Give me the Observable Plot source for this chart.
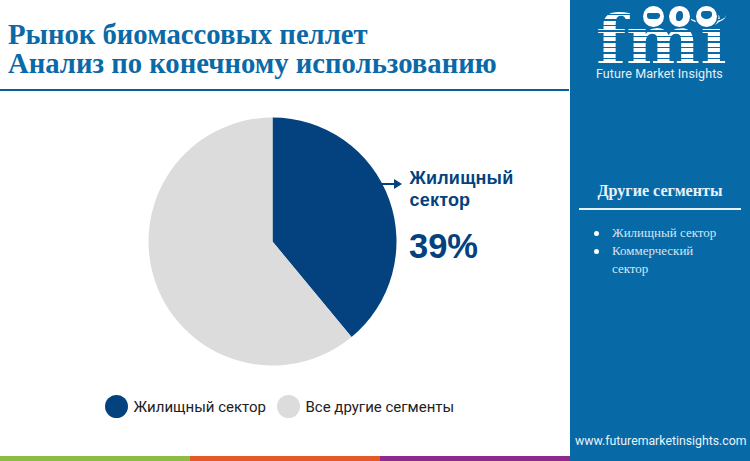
<!DOCTYPE html>
<html lang="ru"><head><meta charset="utf-8">
<script src="https://cdn.jsdelivr.net/npm/d3@7"></script>
<script src="https://cdn.jsdelivr.net/npm/@observablehq/plot@0.6"></script>
<style>
html,body{margin:0;padding:0;background:#fff;width:750px;height:461px;overflow:hidden}
#page{position:relative;width:750px;height:461px;overflow:hidden}
#page div{position:absolute;white-space:nowrap}
#chart{left:0;top:90px;width:569px;height:300px}
#chart svg{display:block}
.title{left:8px;font:bold 28.7px/34px "Liberation Serif",serif;color:#0a69a7}
.rule{left:0;top:89px;width:569px;height:1.5px;background:#0b5f97}
.panel{left:570px;top:0;width:180px;height:461px;background:#0869a7}
.call{left:409.5px;font:bold 18px/22px "Liberation Sans",sans-serif;color:#03427f;letter-spacing:.2px}
.pct{left:409px;top:224px;font:bold 34.5px/44px "Liberation Sans",sans-serif;color:#03427f}
.leg{font:15px/20px Roboto,sans-serif;color:#222;top:397px}
.swatch{width:23px;height:23px;border-radius:50%;top:395px}
.side{font-family:"Liberation Serif",serif;color:#d3e6f3;font-size:13px;line-height:18px;left:612px}
.bullet{width:5px;height:5px;border-radius:50%;background:#fff;left:594px}
.fmi{left:596px;top:10px;padding-top:4px;font:bold 70px/54px "DejaVu Serif",serif;color:transparent;
 background:repeating-linear-gradient(#fff 0 4px,#0869a7 4px 5.5px);-webkit-background-clip:text;background-clip:text}
.globe{width:21px;height:21px;border-radius:50%;background:#fff;top:5.5px;overflow:hidden;box-shadow:0 0 0 1.5px #0869a7}
.globe i{position:absolute;background:#0869a7;display:block}
.smile{left:688px;top:6px;width:38px;height:18px;border-bottom:2px solid #fff;border-radius:0 0 50% 50%;box-sizing:border-box}
</style></head><body>
<div id="page">
 <div class="title" style="top:17px">Рынок биомассовых пеллет</div>
 <div class="title" style="top:46px">Анализ по конечному использованию</div>
 <div class="rule"></div>
 <div id="chart"></div>

 <div style="left:381px;top:183.2px;width:14px;height:2px;background:#03427f"></div>
 <div style="left:394px;top:178.5px;width:0;height:0;border-left:8px solid #03427f;border-top:5.5px solid transparent;border-bottom:5.5px solid transparent"></div>
 <div class="call" style="top:167px">Жилищный</div>
 <div class="call" style="top:189px">сектор</div>
 <div class="pct">39%</div>

 <div class="swatch" style="left:105px;background:#03427f"></div>
 <div class="leg" style="left:133.5px">Жилищный сектор</div>
 <div class="swatch" style="left:276.5px;background:#dcdcdc"></div>
 <div class="leg" style="left:305.5px">Все другие сегменты</div>

 <div class="panel"></div>
 <div class="fmi">fmi</div>
 <div class="smile"></div>
 <div class="globe" style="left:642.5px"><i style="left:4px;top:7px;width:13px;height:6px;border-radius:2px 3px 5px 4px"></i></div>
 <div class="globe" style="left:668.5px"><i style="left:7px;top:5px;width:7px;height:10px;border-radius:50% 40% 50% 30%"></i></div>
 <div class="globe" style="left:695.5px"><i style="left:5px;top:5px;width:11px;height:8px;border-radius:3px 3px 50% 50%"></i></div>
 <div style="left:596px;top:68px;font:12.5px/12px Roboto,sans-serif;color:#e4f0f8;letter-spacing:.1px">Future Market Insights</div>

 <div style="left:570px;width:180px;top:181px;text-align:center;font:bold 16.1px/20px 'Liberation Serif',serif;color:#e8f2f9">Другие сегменты</div>
 <div style="left:579px;top:208px;width:162px;height:1.5px;background:#e8f2f9"></div>
 <div class="bullet" style="top:231px"></div>
 <div class="side" style="top:224px">Жилищный сектор</div>
 <div class="bullet" style="top:249px"></div>
 <div class="side" style="top:242px">Коммерческий</div>
 <div class="side" style="top:260px">сектор</div>
 <div style="left:575px;top:433px;font:12.3px/16px Roboto,sans-serif;color:#eaf3f9">www.futuremarketinsights.com</div>

 <div style="left:0;top:456px;width:190px;height:5px;background:#8dbb43"></div>
 <div style="left:190px;top:456px;width:190px;height:5px;background:#e4592a"></div>
 <div style="left:380px;top:456px;width:190px;height:5px;background:#8e2a8b"></div>
</div>
<script>
const categories = ["Жилищный сектор", "Все другие сегменты"];
const shares = [39, 61];
const colors = ["#03427f", "#dcdcdc"];

const slices = categories.map((name, i) => ({name, share: shares[i]}));
const radius = 124;

const pieMark = Plot.dot(slices, {
  fill: "name",
  frameAnchor: "middle",
  render(index, scales, values, dims) {
    const arcs = d3.pie().sort(null).value(d => d.share)(slices);
    const arc = d3.arc().innerRadius(0).outerRadius(radius);
    const cx = 272.5 , cy = 151.5;
    const g = d3.create("svg:g").attr("transform", `translate(${cx},${cy})`);
    g.selectAll("path").data(arcs).join("path")
      .attr("d", arc)
      .attr("fill", (d, i) => values.fill[i]);
    return g.node();
  }
});

const plot = Plot.plot({
  width: 569, height: 300,
  margin: 0,
  style: {background: "transparent"},
  color: {domain: categories, range: colors},
  marks: [pieMark]
});
document.getElementById("chart").append(plot);
</script>
</body></html>
